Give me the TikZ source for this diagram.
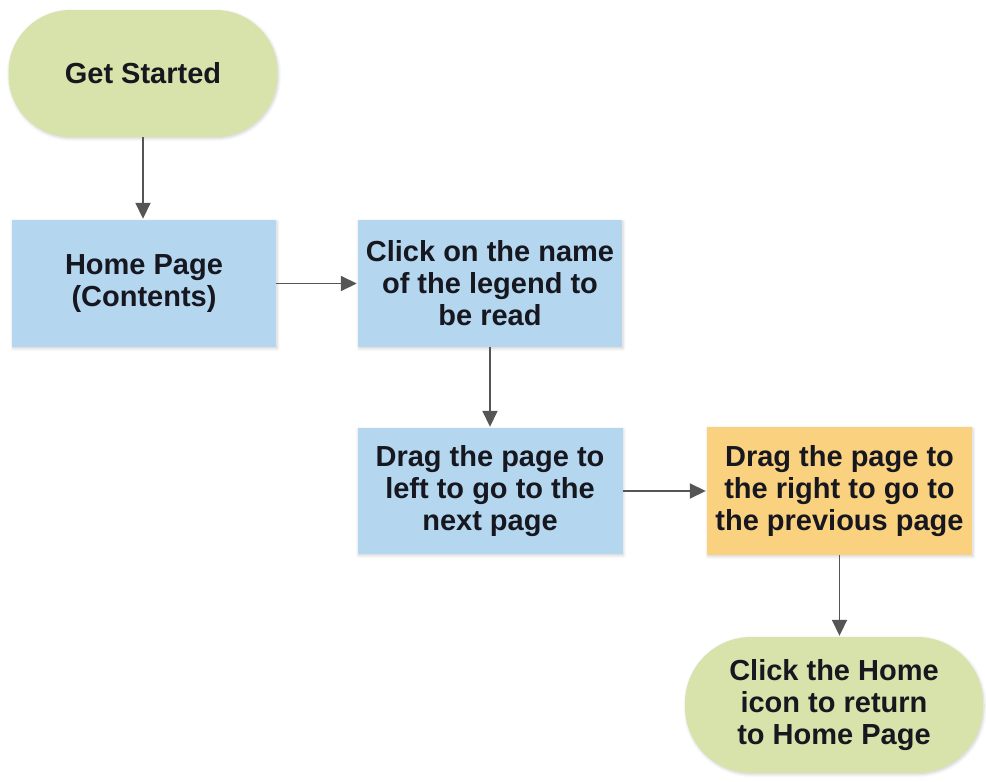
\documentclass[tikz,border=0pt]{standalone}
\usepackage{fontspec}
\setmainfont{Liberation Sans}
\usetikzlibrary{arrows.meta,shadows.blur}
\definecolor{pillgreen}{HTML}{D7E3AA}
\definecolor{boxblue}{HTML}{B4D6EF}
\definecolor{boxorange}{HTML}{FAD17F}
\definecolor{txt}{HTML}{16171F}
\definecolor{arr}{HTML}{555555}
\tikzset{
  base/.style={inner sep=2pt, align=center, text=txt,
    font=\fontsize{29}{32}\selectfont\bfseries,
    blur shadow={shadow blur steps=6, shadow xshift=1pt, shadow yshift=-1.5pt, shadow opacity=18, shadow blur radius=3pt}},
  pill/.style={base, fill=pillgreen, rounded corners=62pt},
  bluebox/.style={base, fill=boxblue},
  orangebox/.style={base, fill=boxorange},
  conn/.style={draw=arr, line width=1.7pt, -{Triangle[length=16pt,width=15pt]}, shorten >=1pt}
}
\begin{document}
\begin{tikzpicture}[x=1pt,y=-1pt]
\useasboundingbox (0,0) rectangle (986,782);
\node[pill, minimum width=269pt, minimum height=127pt] (start) at (143,73.5) {Get Started};
\node[bluebox, minimum width=264pt, minimum height=127pt] (home) at (144,283.5) {Home Page\\(Contents)};
\node[bluebox, minimum width=264pt, minimum height=127pt] (click) at (490,283.5) {Click on the name\\of the legend to\\be read};
\node[bluebox, minimum width=265pt, minimum height=126pt] (left) at (490,491) {Drag the page to\\left to go to the\\next page};
\node[orangebox, minimum width=265pt, minimum height=128pt] (right) at (839.5,491) {Drag the page to\\the right to go to\\the previous page};
\node[pill, rounded corners=66pt, minimum width=298pt, minimum height=136pt] (end) at (834,705) {Click the Home\\icon to return\\to Home Page};
\draw[conn] (start.south) -- (start.south |- home.north);
\draw[conn] (home.east) -- (click.west);
\draw[conn] (click.south) -- (left.north);
\draw[conn] (left.east) -- (right.west);
\draw[conn] (right.south) -- (right.south |- end.north);
\end{tikzpicture}
\end{document}
